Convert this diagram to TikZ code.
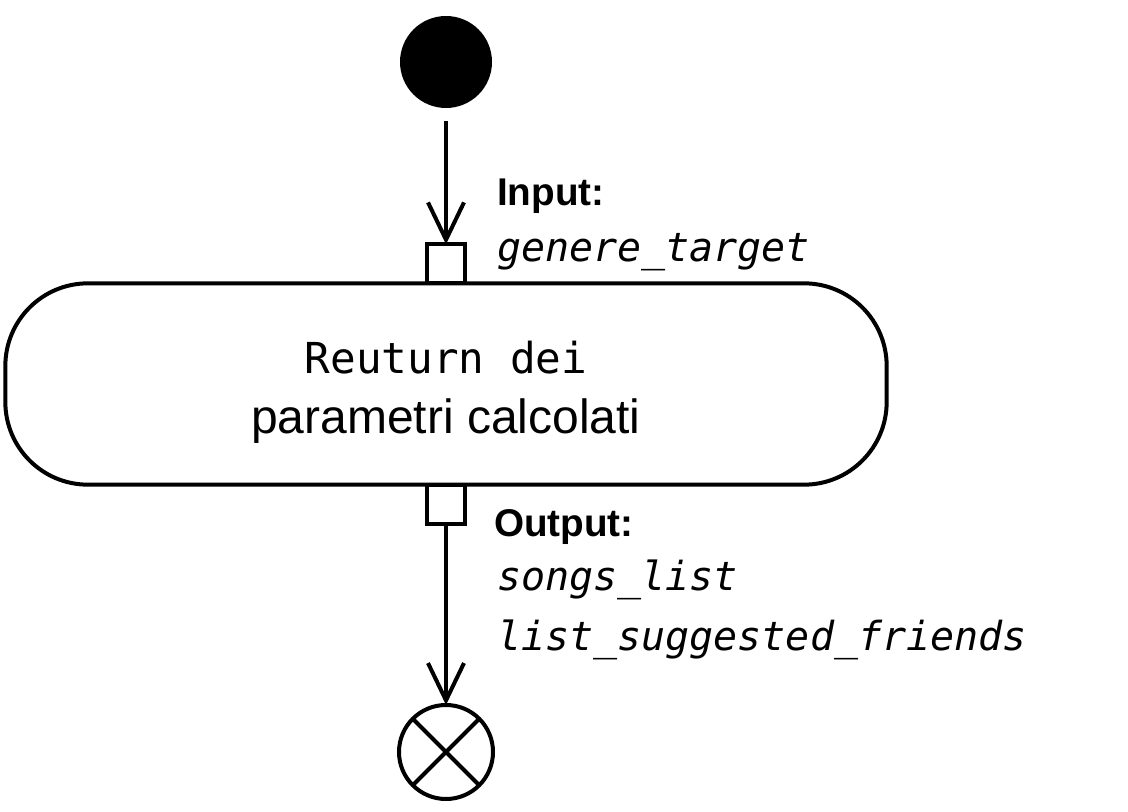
\documentclass[tikz,border=0pt]{standalone}
\usepackage{fontspec}
\setmainfont{Liberation Sans}
\setmonofont{DejaVu Sans Mono}
\usetikzlibrary{arrows.meta,positioning}

\begin{document}
\begin{tikzpicture}[x=0.75pt,y=-0.75pt,
    every node/.style={outer sep=0pt},
    umlline/.style={line width=3pt},
    flow/.style={umlline,-{Straight Barb[length=28pt,width=27pt]}},
    startdot/.style={circle,fill=black,minimum size=69pt,inner sep=0pt},
    enddot/.style={circle,draw,umlline,minimum size=70.5pt,inner sep=0pt,
      path picture={\draw[umlline] (path picture bounding box.north west) -- (path picture bounding box.south east)
        (path picture bounding box.north east) -- (path picture bounding box.south west);}},
    action/.style={draw,umlline,rounded corners=62pt,minimum width=661pt,minimum height=151pt,
      align=center,font=\fontsize{36}{45}\selectfont},
    pinbox/.style={draw,umlline,fill=white,minimum width=28.5pt,minimum height=29.25pt,inner sep=0pt},
    tag/.style={font=\fontsize{29}{35}\selectfont\bfseries,inner sep=0pt},
    param/.style={font=\fontsize{30}{36}\selectfont\ttfamily\itshape,inner sep=0pt}]

  \useasboundingbox (0,0) rectangle (1128,812);

  \node[startdot] (start) at (446,62) {};
  \node[action] (act) at (446,384) {\rule{0pt}{36pt}{\ttfamily\fontsize{32}{45}\selectfont Reuturn dei}\\ parametri calcolati};
  \node[pinbox,anchor=south] (inpin) at (act.north) {};
  \node[pinbox,anchor=north] (outpin) at (act.south) {};
  \node[enddot] (end) at (446,752) {};

  \draw[flow,shorten <=10pt] (start) -- (inpin);
  \draw[flow] (outpin) -- (end);

  % pin labels
  \node[tag,anchor=base west] (inlabel) at (497,206) {Input:};
  \node[param,anchor=base west] (inparam) at (497,262) {genere\_target};
  \node[tag,anchor=base west] (outlabel) at (494,537) {Output:};
  \node[param,anchor=base west] (songs) at (497,590) {songs\_list};
  \node[param,anchor=base west] (friends) at (497,650) {list\_suggested\_friends};

\end{tikzpicture}
\end{document}
